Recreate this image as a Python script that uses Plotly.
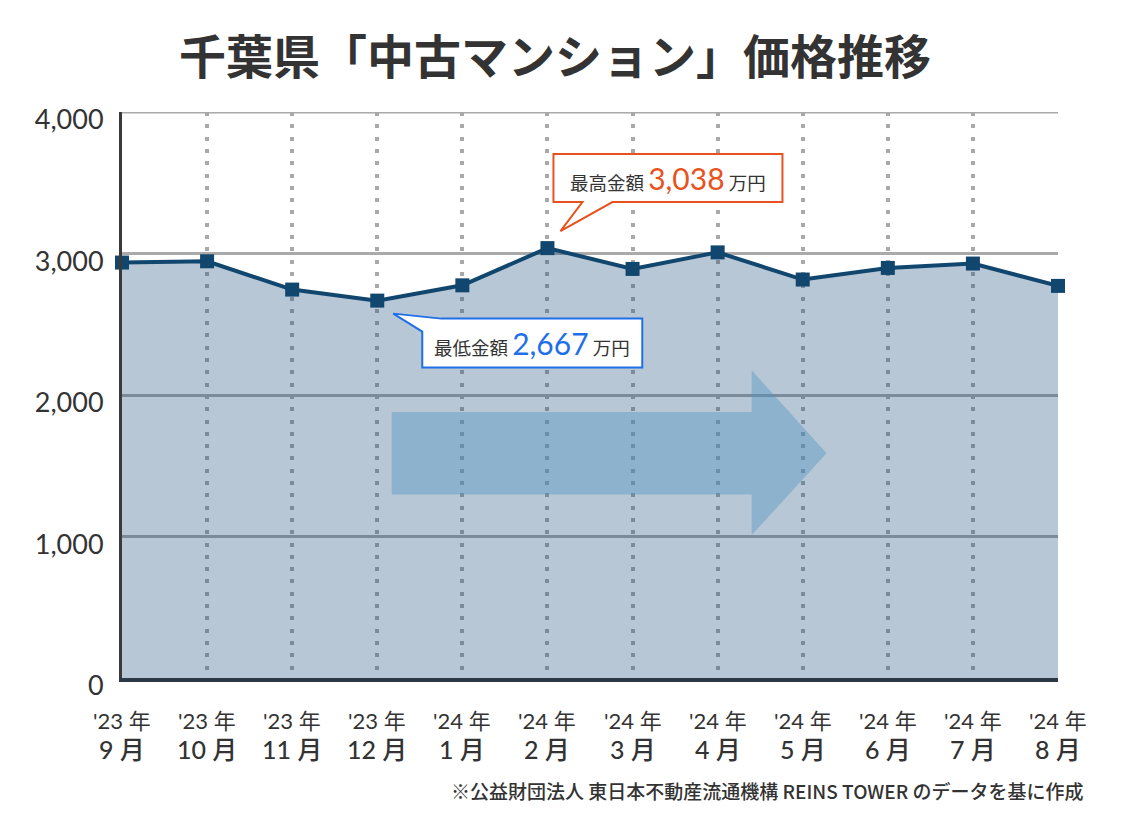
import plotly.graph_objects as go

# ---- data ----
years = ["'23 年", "'23 年", "'23 年", "'23 年", "'24 年", "'24 年",
         "'24 年", "'24 年", "'24 年", "'24 年", "'24 年", "'24 年"]
months = ["9 月", "10 月", "11 月", "12 月", "1 月", "2 月",
          "3 月", "4 月", "5 月", "6 月", "7 月", "8 月"]
prices = [2936, 2945, 2745, 2667, 2775, 3038, 2891, 3008, 2816, 2898, 2929, 2771]
y_ticks = [0, 1000, 2000, 3000, 4000]
y_tick_text = ["0", "1,000", "2,000", "3,000", "4,000"]
title_text = "千葉県「中古マンション」価格推移"
source_text = "※公益財団法人 東日本不動産流通機構 REINS TOWER のデータを基に作成"

x_idx = list(range(len(months)))
i_max = prices.index(max(prices))
i_min = prices.index(min(prices))

LATIN = "Lato, 'Noto Sans CJK JP', sans-serif"
CJK = "'Noto Sans CJK JP', Lato, sans-serif"
NAVY = "#11466f"
ORANGE = "#e8521e"
BLUE = "#1f6fe8"

W, H = 1113, 827  # page has an 8px body margin

fig = go.Figure()
fig.add_trace(go.Scatter(
    x=x_idx, y=prices, mode="lines+markers",
    line=dict(color=NAVY, width=4),
    marker=dict(symbol="square", size=14, color=NAVY),
    fill="tozeroy", fillcolor="rgba(18,70,116,0.30)",
    cliponaxis=False, hoverinfo="skip", showlegend=False,
))

# top grid line (at the upper end of the axis)
fig.add_shape(type="line", xref="paper", yref="y", x0=0, x1=1,
              y0=y_ticks[-1], y1=y_ticks[-1], layer="below",
              line=dict(color="#aaaaaa", width=3))

# decorative translucent arrow
fig.add_shape(type="path", xref="x", yref="y", layer="above",
              path="M 3.17 1879 L 7.40 1879 L 7.40 2175 L 8.28 1588 L 7.40 1010 L 7.40 1297 L 3.17 1297 Z",
              fillcolor="rgba(80,150,196,0.42)", line=dict(width=0))

# callout for maximum (pixel offsets relative to the point)
fig.add_shape(type="path", xref="x", yref="y", xsizemode="pixel", ysizemode="pixel",
              xanchor=i_max, yanchor=prices[i_max], layer="above",
              path="M 6 94 L 235 94 L 235 46 L 65 46 L 13 17 L 35 46 L 6 46 Z",
              fillcolor="white", line=dict(color=ORANGE, width=2))
fig.add_annotation(x=i_max, y=prices[i_max], xref="x", yref="y", showarrow=False,
                   xshift=121, yshift=70, xanchor="center", yanchor="middle",
                   text=("最高金額 <span style='font-size:30px;color:%s;font-family:Lato'>%s</span> 万円"
                         % (ORANGE, f"{prices[i_max]:,}")),
                   font=dict(family=CJK, size=18.5, color="#333333"))

# callout for minimum
fig.add_shape(type="path", xref="x", yref="y", xsizemode="pixel", ysizemode="pixel",
              xanchor=i_min, yanchor=prices[i_min], layer="above",
              path="M 64 -18 L 265 -18 L 265 -67 L 45 -67 L 45 -31 L 16 -13 Z",
              fillcolor="white", line=dict(color=BLUE, width=2))
fig.add_annotation(x=i_min, y=prices[i_min], xref="x", yref="y", showarrow=False,
                   xshift=155, yshift=-42, xanchor="center", yanchor="middle",
                   text=("最低金額 <span style='font-size:30px;color:%s;font-family:Lato'>%s</span> 万円"
                         % (BLUE, f"{prices[i_min]:,}")),
                   font=dict(family=CJK, size=18.5, color="#333333"))

# x labels (two lines)
for i in x_idx:
    fig.add_annotation(x=i, y=0, xref="x", yref="paper", showarrow=False,
                       yshift=-42, xanchor="center", yanchor="middle",
                       text=years[i], font=dict(family=LATIN, size=22, color="#333333"))
    fig.add_annotation(x=i, y=0, xref="x", yref="paper", showarrow=False,
                       yshift=-71, xanchor="center", yanchor="middle",
                       text=months[i], font=dict(family=LATIN, size=25, color="#333333", weight=500))

# source note
fig.add_annotation(x=1.0288, y=0, xref="paper", yref="paper", showarrow=False,
                   yshift=-112, xanchor="right", yanchor="middle",
                   text=source_text, font=dict(family=CJK, size=19, color="#333333", weight=500))

fig.update_layout(
    width=W, height=H,
    margin=dict(l=114, r=63, t=104, b=157),
    paper_bgcolor="white", plot_bgcolor="white",
    title=dict(text=title_text, x=547 / W, xanchor="center", y=1 - 50 / H, yanchor="middle",
               font=dict(family=CJK, size=47, color="#333333", weight="bold")),
    xaxis=dict(range=[0, 11], tickvals=x_idx, showticklabels=False,
               showgrid=True, gridcolor="#a9a9a9", gridwidth=4, griddash="4px,8.3px",
               showline=True, linecolor="#2b3946", linewidth=4, zeroline=False, ticks=""),
    yaxis=dict(range=[0, 4000], tickvals=y_ticks, ticktext=y_tick_text,
               showgrid=True, gridcolor="#aaaaaa", gridwidth=3,
               showline=True, linecolor="#3a3a3a", linewidth=3, zeroline=False, ticks="",
               ticklabelshift=8, ticklabelstandoff=10,
               tickfont=dict(family=LATIN, size=27, color="#333333")),
    hovermode=False,
)

fig.write_html("out.html")
